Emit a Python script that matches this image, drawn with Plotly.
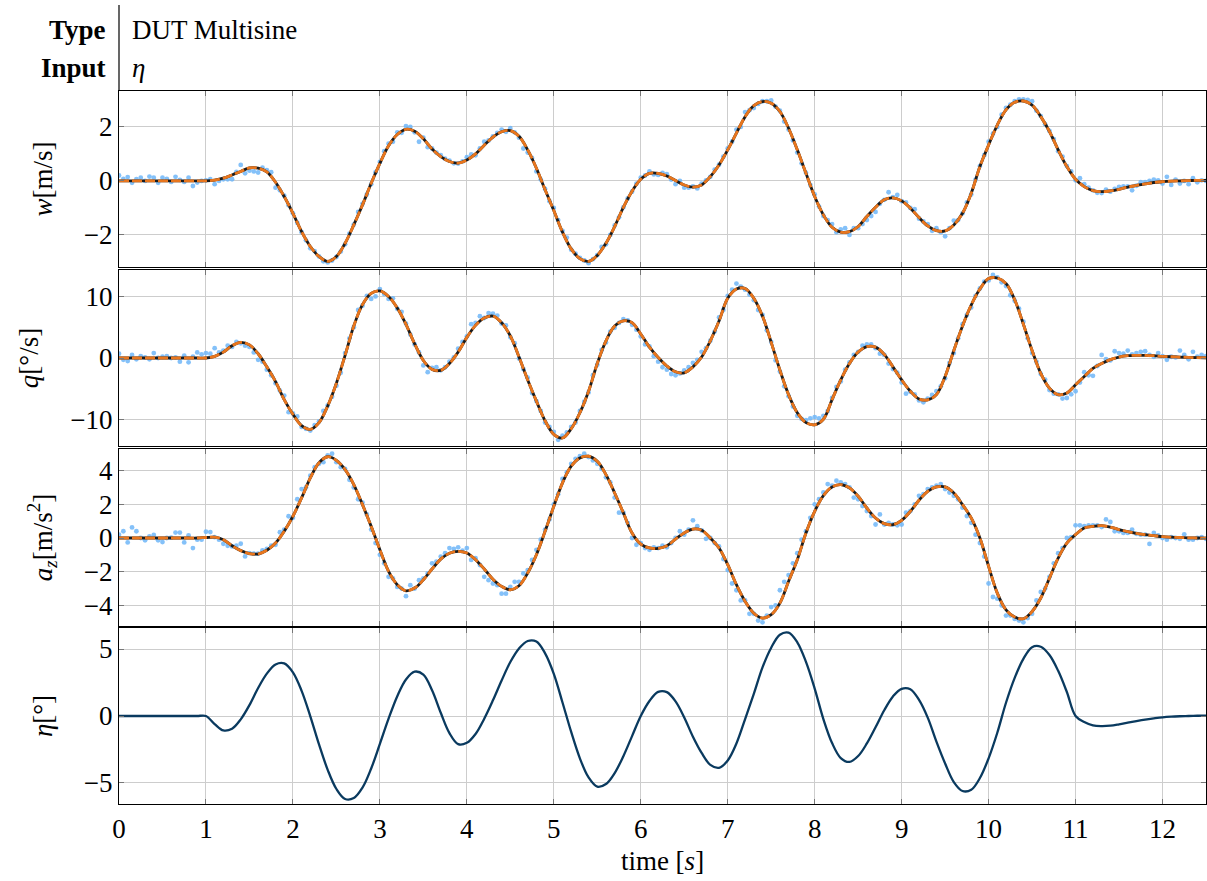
import numpy as np
import plotly.graph_objects as go

# ---------------- data ----------------
T_STEP = 0.1     # model curves sampled every 0.1 s
DOT_STEP = 0.05  # measured samples every 0.05 s

w_model = [
    0, 0, 0, 0, 0, 0, 0, 0, 0, 0,
    0.0, 0.03, 0.1, 0.22, 0.35, 0.48, 0.47, 0.33, -0.05, -0.58,
    -1.2, -1.88, -2.43, -2.8, -2.98, -2.8, -2.31, -1.63, -0.89, -0.09,
    0.65, 1.3, 1.72, 1.91, 1.84, 1.56, 1.18, 0.9, 0.72, 0.66,
    0.77, 1.0, 1.32, 1.62, 1.82, 1.86, 1.65, 1.15, 0.47, -0.33,
    -1.1, -1.9, -2.52, -2.88, -2.98, -2.76, -2.31, -1.69, -0.98, -0.38,
    0.06, 0.28, 0.28, 0.18, 0.01, -0.15, -0.23, -0.15, 0.16, 0.59,
    1.15, 1.77, 2.38, 2.79, 2.94, 2.88, 2.57, 1.95, 1.15, 0.28,
    -0.58, -1.26, -1.72, -1.9, -1.88, -1.69, -1.32, -0.98, -0.7, -0.63,
    -0.74, -1.01, -1.36, -1.67, -1.84, -1.85, -1.63, -1.2, -0.46, 0.53,
    1.33, 2.07, 2.63, 2.91, 2.96, 2.81, 2.38, 1.83, 1.15, 0.53,
    0.06, -0.21, -0.36, -0.4, -0.37, -0.31, -0.23, -0.17, -0.11, -0.06,
    -0.03, -0.01, 0.0, 0.01, 0.02, 0.02,
]

q_model = [
    0, 0, 0, 0, 0, 0, 0, 0, 0, 0,
    0.0, 0.27, 0.96, 2.0, 2.55, 2.13, 0.69, -1.44, -3.83, -6.76,
    -9.15, -11.0, -11.6, -10.5, -7.8, -4.1, 0.43, 5.2, 8.67, 10.5,
    10.9, 10.0, 8.14, 5.48, 2.29, -0.4, -1.85, -2.0, -0.9, 0.96,
    3.35, 5.3, 6.5, 6.8, 5.74, 3.6, 0.16, -3.56, -7.0, -10.2,
    -12.4, -13.0, -11.5, -8.9, -5.4, -0.9, 2.8, 5.2, 6.05, 5.74,
    3.9, 1.76, 0.1, -1.3, -2.23, -2.4, -1.44, 0.16, 2.8, 6.0,
    9.7, 11.2, 11.3, 9.7, 6.8, 2.55, -1.97, -5.96, -8.9, -10.5,
    -10.85, -9.95, -6.76, -3.56, -0.9, 0.96, 1.86, 1.76, 0.59, -1.44,
    -3.56, -5.4, -6.65, -6.8, -5.96, -3.0, 1.22, 5.2, 8.6, 11.2,
    12.9, 13.0, 12.1, 9.47, 5.48, 1.22, -2.5, -4.9, -5.96, -5.7,
    -4.36, -3.0, -1.7, -0.9, -0.27, 0.16, 0.37, 0.43, 0.43, 0.37,
    0.27, 0.2, 0.15, 0.1, 0.05, 0.03,
]

az_model = [
    0, 0, 0, 0, 0, 0, 0, 0, 0, 0,
    0.03, 0.05, -0.1, -0.46, -0.75, -0.92, -0.95, -0.73, -0.3, 0.4,
    1.29, 2.38, 3.56, 4.46, 4.82, 4.61, 4.06, 3.17, 1.98, 0.69,
    -0.69, -1.98, -2.77, -3.13, -2.97, -2.48, -1.84, -1.25, -0.9, -0.79,
    -0.89, -1.29, -1.84, -2.44, -2.87, -3.07, -2.83, -2.08, -0.99, 0.4,
    1.88, 3.27, 4.26, 4.75, 4.85, 4.55, 3.76, 2.67, 1.49, 0.3,
    -0.36, -0.59, -0.62, -0.46, -0.06, 0.3, 0.53, 0.46, 0.0, -0.59,
    -1.58, -2.77, -3.76, -4.46, -4.75, -4.55, -3.86, -2.57, -1.29, 0.3,
    1.58, 2.51, 3.03, 3.17, 2.97, 2.48, 1.78, 1.19, 0.85, 0.79,
    1.05, 1.58, 2.24, 2.77, 3.03, 3.03, 2.67, 1.98, 1.19, 0.0,
    -1.68, -3.27, -4.26, -4.69, -4.79, -4.36, -3.56, -2.38, -1.19, -0.3,
    0.2, 0.59, 0.69, 0.73, 0.65, 0.5, 0.38, 0.28, 0.2, 0.14,
    0.08, 0.05, 0.03, 0.01, 0.0, -0.01,
]

eta_input = [
    0, 0, 0, 0, 0, 0, 0, 0, 0, 0,
    0.0, -0.6, -1.08, -0.95, -0.25, 0.81, 2.09, 3.16, 3.85, 3.93,
    3.26, 1.88, -0.02, -2.12, -4.02, -5.45, -6.2, -6.13, -5.35, -3.92,
    -2.08, -0.2, 1.48, 2.73, 3.31, 3.09, 1.92, 0.24, -1.28, -2.1,
    -2.0, -1.34, -0.2, 1.17, 2.65, 4.03, 5.04, 5.6, 5.56, 4.68,
    3.15, 1.01, -1.19, -3.16, -4.59, -5.28, -5.08, -4.26, -3.0, -1.5,
    0.0, 1.12, 1.8, 1.78, 1.09, -0.11, -1.55, -2.76, -3.65, -3.87,
    -3.32, -2.05, -0.23, 1.65, 3.63, 5.1, 6.07, 6.22, 5.5, 4.04,
    2.05, -0.23, -2.02, -3.14, -3.43, -2.99, -2.05, -0.84, 0.43, 1.46,
    2.03, 2.0, 1.2, -0.12, -1.91, -3.54, -4.93, -5.6, -5.51, -4.63,
    -3.16, -1.25, 0.99, 2.85, 4.27, 5.14, 5.17, 4.55, 3.37, 1.79,
    0.0, -0.45, -0.7, -0.75, -0.72, -0.62, -0.5, -0.38, -0.27, -0.18,
    -0.1, -0.05, -0.02, 0.0, 0.02, 0.03,
]

w_meas = [
    0.2, 0.07, 0.14, -0.07, 0.06, 0.12, 0.0, 0.16, 0.12, -0.07, 0.12, 0.07, -0.04, 0.15, 0.04, -0.04, 0.12, -0.19, -0.06, 0.0,
    0.02, 0.06, -0.12, 0.0, 0.06, 0.06, 0.06, 0.33, 0.59, 0.28, 0.38, 0.35, 0.31, 0.49, 0.4, 0.32, -0.25, -0.35, -0.55, -0.9,
    -1.2, -1.55, -1.9, -2.2, -2.5, -2.6, -2.8, -2.98, -3.02, -2.95, -2.82, -2.62, -2.35, -1.95, -1.62, -1.15, -0.85, -0.5, -0.12, 0.32,
    0.7, 1.1, 1.38, 1.45, 1.8, 1.78, 2.03, 2.0, 1.8, 1.45, 1.6, 1.25, 1.2, 1.05, 0.95, 0.82, 0.75, 0.65, 0.64, 0.72,
    0.88, 0.98, 0.95, 1.2, 1.45, 1.5, 1.65, 1.78, 1.9, 1.82, 1.95, 1.8, 1.6, 1.2, 1.05, 0.85, 0.35, 0.05, -0.3, -0.75,
    -1.0, -1.45, -1.85, -2.1, -2.55, -2.7, -2.85, -2.95, -3.05, -2.9, -2.75, -2.45, -2.35, -2.0, -1.65, -1.35, -0.98, -0.65, -0.4, -0.1,
    0.12, 0.2, 0.35, 0.24, 0.22, 0.3, 0.25, 0.05, -0.12, 0.0, -0.25, -0.25, -0.2, -0.28, -0.1, 0.02, 0.15, 0.42, 0.6, 0.9,
    1.2, 1.45, 1.9, 2.0, 2.55, 2.62, 2.7, 2.85, 2.95, 2.95, 2.98, 2.75, 2.6, 2.2, 1.9, 1.5, 1.05, 0.65, 0.3, -0.15,
    -0.5, -0.95, -1.3, -1.45, -1.6, -1.9, -1.8, -1.75, -2.0, -1.75, -1.75, -1.6, -1.45, -1.3, -1.15, -0.85, -0.7, -0.42, -0.6, -0.52,
    -0.75, -0.8, -1.0, -1.05, -1.4, -1.5, -1.6, -1.85, -1.75, -1.9, -2.05, -1.75, -1.47, -1.45, -1.2, -0.8, -0.5, 0.05, 0.55, 0.95,
    1.45, 1.75, 2.0, 2.45, 2.7, 2.82, 2.95, 3.02, 3.02, 3.0, 2.95, 2.6, 2.4, 2.1, 1.85, 1.55, 1.1, 0.9, 0.55, 0.35,
    0.02, 0.1, -0.12, -0.25, -0.35, -0.44, -0.45, -0.32, -0.4, -0.3, -0.22, -0.2, -0.2, -0.35, -0.18, -0.05, -0.05, 0.0, 0.05, 0.02,
    -0.1, 0.15, -0.15, 0.05, -0.1, 0.0, -0.12, 0.1, -0.05, 0.02, 0.0,
]

q_meas = [
    0.7, -0.3, -0.5, 0.5, -0.2, 0.3, 0.1, -0.2, 0.8, 0.0, 0.2, 0.3, 0.0, 0.1, -0.6, 0.4, -0.7, 0.2, 0.9, 0.6,
    0.8, 0.7, 1.6, 0.9, 1.2, 2.0, 1.8, 2.6, 2.4, 2.0, 1.8, 0.9, -0.3, -0.6, -1.9, -2.8, -4.1, -5.3, -6.1, -8.8,
    -9.0, -9.5, -11.2, -11.5, -11.8, -10.9, -10.3, -8.6, -7.7, -6.3, -4.5, -2.4, 0.8, 3.2, 5.0, 7.8, 8.5, 10.1, 9.6, 10.0,
    11.2, 10.4, 9.6, 9.7, 8.0, 7.5, 5.6, 3.8, 2.2, 0.9, -1.2, -2.3, -1.6, -1.5, -2.0, -1.5, -0.6, 0.1, 1.5, 2.6,
    3.5, 5.5, 5.7, 6.8, 6.5, 7.3, 7.2, 6.9, 5.6, 5.3, 3.4, 2.4, -0.1, -1.8, -3.2, -5.7, -7.0, -8.6, -10.5, -11.2,
    -12.0, -13.3, -12.6, -12.1, -11.2, -10.5, -8.6, -7.1, -5.6, -2.8, -1.1, 1.3, 2.5, 4.3, 4.9, 5.7, 6.3, 6.1, 5.4, 4.6,
    3.5, 2.2, 1.9, 0.3, -0.6, -1.5, -1.9, -2.6, -2.8, -2.5, -2.0, -1.5, -0.8, -0.3, 1.0, 1.6, 2.8, 4.3, 6.6, 7.8,
    10.1, 11.1, 12.1, 11.6, 11.1, 10.3, 9.4, 7.8, 7.0, 4.5, 2.6, -0.4, -2.2, -4.6, -6.2, -7.9, -9.4, -9.9, -10.1, -9.8,
    -9.6, -9.8, -9.4, -8.6, -6.5, -4.7, -3.8, -1.9, -0.7, 0.5, 1.0, 2.0, 2.2, 2.2, 1.6, 0.7, 0.5, -0.9, -1.8, -2.4,
    -4.0, -5.8, -5.5, -5.9, -6.9, -7.2, -6.6, -6.0, -5.4, -4.6, -3.3, -0.8, 0.8, 3.2, 5.5, 7.0, 8.2, 10.1, 11.3, 12.4,
    12.6, 13.5, 13.1, 12.3, 11.7, 10.2, 9.3, 8.0, 5.9, 3.2, 0.8, -0.6, -2.6, -3.5, -5.2, -5.8, -5.9, -6.6, -6.5, -5.9,
    -5.4, -4.0, -2.3, -2.8, -2.9, -1.3, 0.5, -0.2, -0.4, 1.1, 0.8, 0.7, 1.2, 0.6, 0.8, 1.0, 1.1, 0.5, 0.2, 0.8,
    0.3, -0.3, 0.2, 0.1, 1.2, 0.5, -0.2, 1.0, 0.2, 0.5, 0.3,
]

az_meas = [
    0.2, 0.4, -0.26, 0.63, 0.4, 0.0, -0.14, 0.1, 0.18, -0.14, -0.24, 0.0, 0.02, 0.32, 0.32, -0.26, 0.16, -0.6, -0.1, -0.1,
    0.37, 0.35, 0.05, -0.1, -0.34, -0.46, -0.5, -0.46, -0.34, -1.09, -0.9, -0.93, -0.93, -0.73, -0.65, -0.46, -0.4, 0.34, 0.5, 1.29,
    1.2, 2.3, 2.9, 3.0, 3.7, 4.2, 4.4, 4.5, 4.9, 5.0, 4.5, 4.2, 4.1, 3.45, 3.0, 2.3, 2.1, 1.4, 0.5, -0.3,
    -1.0, -1.5, -2.3, -2.4, -2.9, -3.0, -3.45, -2.8, -3.0, -2.5, -2.4, -2.1, -1.5, -1.4, -1.1, -0.9, -0.6, -0.65, -0.55, -0.75,
    -0.6, -1.3, -1.2, -1.6, -2.3, -2.5, -2.7, -2.8, -3.3, -3.3, -2.9, -2.6, -2.6, -2.1, -1.9, -1.3, -0.7, -0.1, 0.5, 1.1,
    2.0, 2.6, 3.5, 3.9, 4.4, 4.7, 4.85, 5.0, 4.8, 4.6, 4.4, 4.1, 3.6, 3.3, 2.4, 1.5, 1.5, 0.9, 0.0, -0.4,
    -0.3, -0.6, -0.7, -0.55, -0.6, -0.45, -0.55, -0.3, 0.0, 0.4, 0.2, 0.5, 1.05, 0.7, 0.45, -0.05, 0.0, -0.3, -0.5, -1.25,
    -1.9, -2.7, -3.1, -3.7, -3.7, -4.5, -4.5, -4.9, -5.0, -4.6, -4.1, -4.0, -3.1, -2.6, -2.2, -1.5, -0.9, -0.1, 0.4, 1.2,
    2.0, 2.3, 2.7, 3.2, 3.1, 3.4, 3.3, 3.2, 3.0, 2.4, 2.3, 1.9, 1.6, 1.3, 0.8, 1.4, 0.8, 0.9, 0.8, 0.75,
    0.8, 1.5, 1.6, 2.0, 2.5, 2.6, 2.9, 3.0, 3.1, 3.2, 2.9, 2.7, 2.5, 2.3, 1.8, 1.3, 0.9, 0.2, -0.3, -1.1,
    -2.7, -3.5, -3.6, -4.0, -4.6, -4.6, -4.8, -4.9, -5.0, -4.75, -4.5, -3.7, -3.2, -3.0, -2.3, -1.5, -0.9, -0.6, 0.0, 0.05,
    0.75, 0.75, 0.7, 0.75, 0.75, 0.75, 0.65, 1.1, 0.95, 0.4, 0.4, 0.3, 0.3, 0.5, 0.25, 0.2, 0.2, -0.35, 0.3, 0.15,
    0.0, -0.1, 0.05, 0.0, -0.05, 0.22, -0.1, -0.1, 0.0, 0.05, -0.05,
]

x_ticks = list(range(0, 13))
header_rows = [("Type", "DUT Multisine"), ("Input", "<i>η</i>")]
y_titles = ["<i>w</i>[m/s]", "<i>q</i>[°/s]", "<i>a<sub>z</sub></i>[m/s<sup>2</sup>]", "<i>η</i>[°]"]
x_title = "time [<i>s</i>]"

# ---------------- styling ----------------
FONT = "Liberation Serif, serif"
DOT = "rgba(110,182,248,0.85)"
ORANGE = "#e8761e"
BLACK = "#1c1c1c"
NAVY = "#0a3a5f"

t_model = np.round(np.arange(len(w_model)) * T_STEP, 3)
t_meas = np.round(np.arange(len(w_meas)) * DOT_STEP, 3)

W, H = 1207, 881
ML, MR, MT, MB = 119, 1, 0, 77
PH = H - MT - MB


def dom(top_px, bot_px):
    return [(PH - bot_px) / PH, (PH - top_px) / PH]


domains = [dom(91, 267), dom(270, 446), dom(449, 626), dom(628, 804)]
yranges = [[-3.19, 3.33], [-14.3, 14.3], [-5.22, 5.28], [-6.57, 6.57]]
ydticks = [2, 10, 2, 5]

fig = go.Figure()

panels = [(w_meas, w_model), (q_meas, q_model), (az_meas, az_model)]
for k, (meas, model) in enumerate(panels, start=1):
    xa = "x" if k == 1 else f"x{k}"
    ya = "y" if k == 1 else f"y{k}"
    fig.add_trace(go.Scatter(x=t_meas, y=meas, mode="markers",
                             marker=dict(size=4.8, color=DOT, line=dict(width=0)),
                             xaxis=xa, yaxis=ya, showlegend=False, hoverinfo="skip"))
    fig.add_trace(go.Scatter(x=t_model, y=model, mode="lines",
                             line=dict(color=BLACK, width=2.8, shape="spline", smoothing=1.0),
                             xaxis=xa, yaxis=ya, showlegend=False))
    fig.add_trace(go.Scatter(x=t_model, y=model, mode="lines",
                             line=dict(color=ORANGE, width=2.8, dash="10px,3px", shape="spline", smoothing=1.0),
                             xaxis=xa, yaxis=ya, showlegend=False))

fig.add_trace(go.Scatter(x=t_model, y=eta_input, mode="lines",
                         line=dict(color=NAVY, width=2.3, shape="spline", smoothing=1.0),
                         xaxis="x4", yaxis="y4", showlegend=False))

TICK_SIZE = 27
TITLE_SIZE = 27
common = dict(showline=True, linecolor="black", linewidth=1.2, mirror="ticks",
              ticks="inside", ticklen=5, tickcolor="#777777", tickwidth=1,
              showgrid=True, gridcolor="#cdcdcd", gridwidth=1, zeroline=False,
              tickfont=dict(family=FONT, size=TICK_SIZE, color="black"), automargin=False)

layout = dict(width=W, height=H, margin=dict(l=ML, r=MR, t=MT, b=MB),
              paper_bgcolor="white", plot_bgcolor="white", showlegend=False,
              font=dict(family=FONT, color="black"))

for k in range(1, 5):
    xname = "xaxis" if k == 1 else f"xaxis{k}"
    yname = "yaxis" if k == 1 else f"yaxis{k}"
    yanchor = "y" if k == 1 else f"y{k}"
    xanchor = "x" if k == 1 else f"x{k}"
    xa = dict(common, domain=[0, 1], anchor=yanchor, range=[0, 12.5],
              tickmode="array", tickvals=x_ticks, ticktext=[str(v) for v in x_ticks],
              showticklabels=(k == 4))
    if k > 1:
        xa["matches"] = "x"
    if k == 4:
        xa["title"] = dict(text=x_title, font=dict(family=FONT, size=TITLE_SIZE, color="black"), standoff=8)
    layout[xname] = xa
    layout[yname] = dict(common, domain=domains[k - 1], anchor=xanchor, range=yranges[k - 1],
                         dtick=ydticks[k - 1], tick0=0,
                         title=dict(text=y_titles[k - 1], font=dict(family=FONT, size=TITLE_SIZE, color="black"), standoff=23))

fig.update_layout(**layout)

# header table
row_px = [30, 68]
for (lab, val), py in zip(header_rows, row_px):
    yp = (PH - py) / PH
    fig.add_annotation(xref="paper", yref="paper", x=0, y=yp, xanchor="right", yanchor="middle",
                       xshift=-11, text=f"<b>{lab}</b>", showarrow=False,
                       font=dict(family=FONT, size=27, color="black"))
    fig.add_annotation(xref="paper", yref="paper", x=0, y=yp, xanchor="left", yanchor="middle",
                       xshift=11, text=val, showarrow=False,
                       font=dict(family=FONT, size=27, color="black"))

fig.add_shape(type="line", xref="paper", yref="paper", x0=0, x1=0,
              y0=(PH - 91) / PH, y1=(PH - 5) / PH, line=dict(color="black", width=1.2))

fig.write_html("out.html")
